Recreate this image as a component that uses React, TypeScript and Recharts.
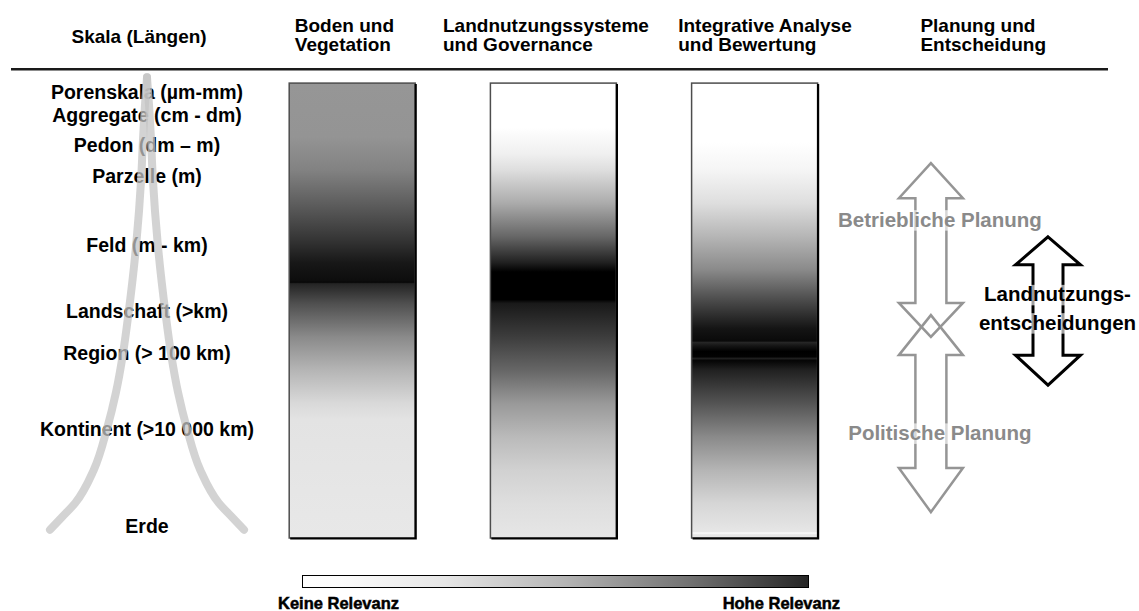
import React from 'react';
import { ComposedChart, Bar, Cell, Line, Scatter, XAxis, YAxis, ReferenceArea, Legend } from 'recharts';

const FONT = '"Liberation Sans", Arial, Helvetica, sans-serif';

// Spalten der Abbildung (Kategorien der x-Achse)
const columns = [
  'Skala (Längen)',
  'Boden und Vegetation',
  'Landnutzungssysteme und Governance',
  'Integrative Analyse und Bewertung',
  'Planung und Entscheidung',
];
const columnHeaders = [
  ['Skala (Längen)'],
  ['Boden und', 'Vegetation'],
  ['Landnutzungssysteme', 'und Governance'],
  ['Integrative Analyse', 'und Bewertung'],
  ['Planung und', 'Entscheidung'],
];
// Jede Relevanzspalte reicht über die ganze Skala (0 = oben, 100 = unten)
const columnSpan: ([number, number] | null)[] = [null, [0, 100], [0, 100], [0, 100], null];

// Skalenebenen auf der y-Achse
const scaleLabels = [
  'Porenskala (µm-mm)',
  'Aggregate (cm - dm)',
  'Pedon (dm – m)',
  'Parzelle (m)',
  'Feld (m - km)',
  'Landschaft (>km)',
  'Region (> 100 km)',
  'Kontinent (>10 000 km)',
  'Erde',
];
const scalePositions = [2.0, 7.0, 13.6, 20.5, 35.5, 50.1, 59.3, 76.0, 97.3];

// Relevanz (0 = keine, 1 = hohe) entlang der Skala: [Position, Relevanz]
const bodenRelevance = [
  [0, 0.41], [11.8, 0.42], [19.1, 0.49], [26.4, 0.63], [33.8, 0.78], [39.6, 0.91],
  [43.4, 0.95], [43.8, 0.97], [44.1, 0.86], [48.4, 0.69], [55.8, 0.46], [63.1, 0.29],
  [70.4, 0.15], [74, 0.11], [100, 0.09],
];
const governanceRelevance = [
  [0, 0], [9.7, 0], [15.5, 0.06], [19.1, 0.13], [26.4, 0.33], [33.8, 0.6], [39.4, 0.87],
  [41.5, 1], [47.6, 1], [48.4, 0.9], [55.8, 0.76], [63.1, 0.6], [70.4, 0.4], [77.8, 0.27],
  [85.1, 0.18], [92.4, 0.13], [100, 0.1],
];
const bewertungRelevance = [
  [0, 0], [13, 0], [19.1, 0.04], [26.4, 0.13], [33.8, 0.29], [41, 0.46], [48.4, 0.73],
  [54, 0.92], [56.7, 0.96], [57, 0.85], [57.8, 0.92], [59, 1], [60.2, 0.99], [60.5, 0.87],
  [61, 0.98], [63.1, 0.87], [70.4, 0.67], [77.8, 0.46], [85.1, 0.29], [92.4, 0.16],
  [98.6, 0.1], [98.9, 0.02], [99.3, 0.1], [100, 0.1],
];

// Planungsebenen: Bereich auf der Skala
const planningNames = ['Betriebliche Planung', 'Politische Planung', 'Landnutzungsentscheidungen'];
const planningLines = [['Betriebliche Planung'], ['Politische Planung'], ['Landnutzungs-', 'entscheidungen']];
const planningFrom = [17.6, 51.0, 33.8];
const planningTo = [55.8, 94.3, 66.4];

// Graue Kurve links: Ebene und halbe Spreizung
const spineLevels = [-1.3, 3, 11.9, 20.9, 35.2, 50.5, 59.8, 68, 75.8, 85.1, 92.3, 95.5, 98.2];
const spineSpread = [0, 1.5, 4, 6, 11, 19, 25, 32, 41, 55, 74, 88, 100];

const chartData = columns.map((c, i) => ({ column: c, span: columnSpan[i] }));
const relevanceSets = [null, bodenRelevance, governanceRelevance, bewertungRelevance, null];
const gradientIds = ['', 'relBoden', 'relGovernance', 'relBewertung', ''];
const spineLeft = spineLevels.map((l, i) => ({ level: l, spread: -spineSpread[i] }));
const spineRight = spineLevels.map((l, i) => ({ level: l, spread: spineSpread[i] }));
const scaleData = scaleLabels.map((label, i) => ({ label, level: scalePositions[i], spread: 0 }));

// Layout
const W = 1139;
const H = 611;
const MARGIN = { top: 10, right: 83, bottom: 73, left: 50 };
const HEADER_H = 64;
const SPINE_PAD_RIGHT = 812;

const headerLayout = [
  { dx: -11.5, anchor: 'middle', ys: [43] },
  { dx: -57, anchor: 'start', ys: [32.3, 51.3] },
  { dx: -110, anchor: 'start', ys: [32.3, 51.3] },
  { dx: -76, anchor: 'start', ys: [32.3, 51.3] },
  { dx: -35, anchor: 'start', ys: [32.3, 51.3] },
];

const arrowLayout = [
  { dx: -24.5, hw: 32, hlTop: 35, hlBot: 34, sw: 15.5, stroke: '#959595', sWidth: 2.5, text: '#8a8a8a', textDx: 9, baselines: [63.4] },
  { dx: -24.5, hw: 32, hlTop: 40, hlBot: 44, sw: 15.5, stroke: '#959595', sWidth: 2.5, text: '#8a8a8a', textDx: 9, baselines: [124.7] },
  { dx: 92.6, hw: 32.5, hlTop: 28, hlBot: 30, sw: 15, stroke: '#000', sWidth: 3, text: '#000', textDx: 9.5, baselines: [64.4, 92.7] },
];

const gray = (rel: number) => {
  const g = Math.round(255 * (1 - rel));
  return `rgb(${g},${g},${g})`;
};

let measureCtx: CanvasRenderingContext2D | null = null;
const textWidth = (s: string, size: number) => {
  if (!measureCtx) measureCtx = document.createElement('canvas').getContext('2d');
  if (!measureCtx) return s.length * size * 0.58;
  measureCtx.font = `bold ${size}px ${FONT}`;
  return measureCtx.measureText(s).width;
};

const HeaderTick = (props: any) => {
  const { x, payload } = props;
  const i = columns.indexOf(payload.value);
  const st = headerLayout[i];
  return (
    <g>
      {columnHeaders[i].map((line, k) => (
        <text key={k} x={x + st.dx} y={st.ys[k]} textAnchor={st.anchor} fontFamily={FONT}
          fontWeight={700} fontSize={19} fill="#000">
          {line}
        </text>
      ))}
    </g>
  );
};

// Skalenbeschriftung als Punkte auf der Mittelachse der Kurve
const ScaleLabel = (props: any) => {
  const { cx, cy, payload } = props;
  if (cx == null || cy == null) return null;
  return (
    <text x={cx} y={cy} dy="0.36em" textAnchor="middle" fontFamily={FONT}
      fontWeight={700} fontSize={19.5} fill="#000">
      {payload.label}
    </text>
  );
};

const ColumnShape = (props: any) => {
  const { x, y, width, height, fill } = props;
  if (width == null || height == null) return null;
  const top = Math.min(y, y + height);
  const h = Math.abs(height);
  return (
    <g>
      <rect x={x} y={top} width={width} height={h} fill={fill} stroke="#4d4d4d" strokeWidth={1.5} />
      <path d={`M${x + width + 0.5},${top + 1} V${top + h + 0.5} H${x + 1}`} stroke="#000" strokeWidth={2.2} fill="none" />
    </g>
  );
};

const PlanningArrow = (props: any) => {
  const { x, y, width, height, idx } = props;
  if (x == null || y == null) return null;
  const a = arrowLayout[idx];
  const cx = x + width / 2 + a.dx;
  const top = Math.min(y, y + height);
  const bot = top + Math.abs(height);
  const pts = [
    [cx, top], [cx + a.hw, top + a.hlTop], [cx + a.sw, top + a.hlTop], [cx + a.sw, bot - a.hlBot],
    [cx + a.hw, bot - a.hlBot], [cx, bot], [cx - a.hw, bot - a.hlBot], [cx - a.sw, bot - a.hlBot],
    [cx - a.sw, top + a.hlTop], [cx - a.hw, top + a.hlTop],
  ];
  const size = 20.5;
  return (
    <g>
      <polygon points={pts.map((p) => p.join(',')).join(' ')} fill="none" stroke={a.stroke}
        strokeWidth={a.sWidth} strokeLinejoin="miter" />
      {planningLines[idx].map((line, k) => {
        const w = textWidth(line, size);
        const by = top + a.baselines[k];
        return (
          <g key={k}>
            <rect x={cx + a.textDx - w / 2 - 2} y={by - size * 0.8} width={w + 4} height={size * 1.0}
              fill="#fff" fillOpacity={0.62} />
            <text x={cx + a.textDx} y={by} textAnchor="middle" fontFamily={FONT} fontWeight={700}
              fontSize={size} fill={a.text}>
              {line}
            </text>
          </g>
        );
      })}
    </g>
  );
};

const RelevanceLegend = () => (
  <div style={{ position: 'relative', width: 562, height: 40, fontFamily: FONT }}>
    <div
      style={{
        position: 'absolute', left: 24, top: 2, width: 507, height: 13, boxSizing: 'border-box',
        border: '1.5px solid #000',
        background: 'linear-gradient(to right, #ffffff 0%, #fbfbfb 8%, #e6e6e6 28%, #b4b4b4 52%, #737373 76%, #262626 100%)',
      }}
    />
    <div style={{ position: 'absolute', left: 0, top: 21, fontSize: 16.5, fontWeight: 700, color: '#000', WebkitTextStroke: '0.5px #000', whiteSpace: 'nowrap' }}>
      Keine Relevanz
    </div>
    <div style={{ position: 'absolute', right: 0, top: 21, fontSize: 16.5, fontWeight: 700, color: '#000', WebkitTextStroke: '0.5px #000', whiteSpace: 'nowrap' }}>
      Hohe Relevanz
    </div>
  </div>
);

export default function App() {
  return (
    <div style={{ position: 'absolute', left: 0, top: 0, width: W, height: H, background: '#fff' }}>
      <ComposedChart width={W} height={H} data={chartData} margin={MARGIN}>
        <defs>
          {relevanceSets.map((set, i) =>
            set ? (
              <linearGradient key={i} id={gradientIds[i]} x1="0" y1="0" x2="0" y2="1">
                {set.map(([p, r], k) => (
                  <stop key={k} offset={`${p}%`} stopColor={gray(r)} />
                ))}
              </linearGradient>
            ) : null
          )}
        </defs>
        <line x1={11} y1={69.3} x2={1108} y2={69.3} stroke="#1a1a1a" strokeWidth={2.5} />
        <XAxis dataKey="column" type="category" orientation="top" height={HEADER_H}
          axisLine={false} tickLine={false} interval={0} tick={<HeaderTick />} />
        <XAxis xAxisId="spread" dataKey="spread" type="number" domain={[-100, 100]} hide
          padding={{ left: 0, right: SPINE_PAD_RIGHT }} />
        <YAxis dataKey="level" type="number" domain={[-2, 100]} reversed hide />
        <Bar dataKey="span" barSize={126} isAnimationActive={false} shape={<ColumnShape />}>
          {chartData.map((d, i) => (
            <Cell key={i} fill={gradientIds[i] ? `url(#${gradientIds[i]})` : 'none'} />
          ))}
        </Bar>
        {planningNames.map((name, i) => (
          <ReferenceArea key={name} x1={columns[4]} x2={columns[4]} y1={planningFrom[i]} y2={planningTo[i]}
            ifOverflow="visible" shape={(p: any) => <PlanningArrow {...p} idx={i} />} />
        ))}
        <Scatter xAxisId="spread" data={scaleData} dataKey="level" shape={<ScaleLabel />}
          isAnimationActive={false} zIndex={500} />
        <Line xAxisId="spread" data={spineLeft} dataKey="level" type="monotoneY" stroke="#c4c4c4"
          strokeOpacity={0.75} strokeWidth={8} strokeLinecap="round" dot={false} activeDot={false}
          isAnimationActive={false} zIndex={700} />
        <Line xAxisId="spread" data={spineRight} dataKey="level" type="monotoneY" stroke="#c4c4c4"
          strokeOpacity={0.75} strokeWidth={8} strokeLinecap="round" dot={false} activeDot={false}
          isAnimationActive={false} zIndex={700} />
        <Legend layout="vertical" align="center" verticalAlign="middle"
          wrapperStyle={{ left: 278, top: 573, width: 562 }} content={() => <RelevanceLegend />} />
      </ComposedChart>
    </div>
  );
}
